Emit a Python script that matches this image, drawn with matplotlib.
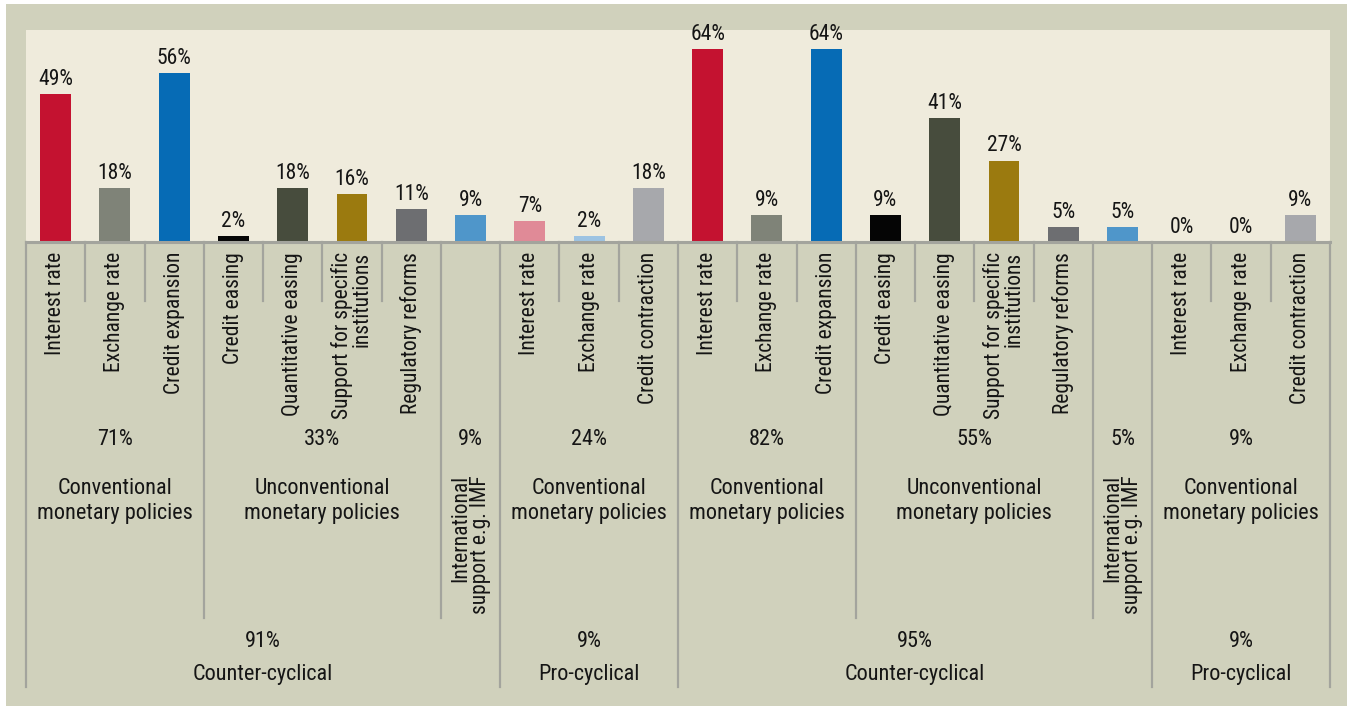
import matplotlib
matplotlib.use("Agg")
from matplotlib import pyplot as plt
from matplotlib import font_manager
from matplotlib.patches import Rectangle

# pick a condensed face, the original uses a narrow grotesque
names = {f.name for f in font_manager.fontManager.ttflist}
face = "Liberation Sans"
for cand in ["Roboto Condensed", "Archivo Narrow", "PT Sans Narrow", "Liberation Sans Narrow"]:
    if cand in names:
        face = cand
        break
plt.rcParams["font.family"] = [face, "DejaVu Sans"]

categories = ["Interest rate", "Exchange rate", "Credit expansion",
              "Credit easing", "Quantitative easing", "Support for specific\ninstitutions",
              "Regulatory reforms", "",
              "Interest rate", "Exchange rate", "Credit contraction",
              "Interest rate", "Exchange rate", "Credit expansion",
              "Credit easing", "Quantitative easing", "Support for specific\ninstitutions",
              "Regulatory reforms", "",
              "Interest rate", "Exchange rate", "Credit contraction"]
values = [49, 18, 56, 2, 18, 16, 11, 9, 7, 2, 18,
          64, 9, 64, 9, 41, 27, 5, 5, 0, 0, 9]
colors = ["#c41230", "#7f8378", "#066bb5", "#050505", "#474c3d", "#9b7a0f",
          "#6d6e71", "#4f96ca", "#e08a97", "#9dc3e2", "#a7a8ac"] * 2

policy_groups = ["Conventional\nmonetary policies", "Unconventional\nmonetary policies",
                 "International\nsupport e.g. IMF", "Conventional\nmonetary policies"] * 2
policy_pcts = ["71%", "33%", "9%", "24%", "82%", "55%", "5%", "9%"]
policy_sizes = [3, 4, 1, 3, 3, 4, 1, 3]

cycle_groups = ["Counter-cyclical", "Pro-cyclical", "Counter-cyclical", "Pro-cyclical"]
cycle_pcts = ["91%", "9%", "95%", "9%"]
cycle_sizes = [8, 3, 8, 3]

W, H = 1347, 706
bg_outer = "#d0d1bc"
bg_plot = "#efebdc"
sep_col = "#a3a49d"
txt = "#151515"
fs = 15.5

fig = plt.figure(figsize=(W / 100, H / 100), dpi=100, facecolor="white")
fig.patches.append(Rectangle((6 / W, 0), 1 - 6 / W, 1 - 4 / H, transform=fig.transFigure,
                             facecolor=bg_outer, edgecolor="none", zorder=-10))

n = len(values)
left, right, top, base = 26, 1330, 30, 242
ax = fig.add_axes([left / W, 1 - base / H, (right - left) / W, (base - top) / H])
ax.set_facecolor(bg_plot)
xs = list(range(n))
bars = ax.bar(xs, values, width=0.52, color=colors)
for b, v in zip(bars, values):
    ax.annotate(f"{v}%", (b.get_x() + b.get_width() / 2, v), xytext=(0, 3),
                textcoords="offset points", ha="center", va="bottom", fontsize=15.5, color=txt)
ax.set_xlim(-0.5, n - 0.5)
ax.set_ylim(0, 70.3)
ax.set_xticks([])
ax.set_yticks([])
for s in ax.spines.values():
    s.set_visible(False)
ax.axhline(0, color=sep_col, lw=2.2, clip_on=False)

# table below the bars, y in pixel rows
tb = fig.add_axes([left / W, 0, (right - left) / W, 1 - base / H])
tb.set_xlim(-0.5, n - 0.5)
tb.set_ylim(H, base)
tb.axis("off")
tb.patch.set_alpha(0)

cyc_edges = [0]
for s in cycle_sizes:
    cyc_edges.append(cyc_edges[-1] + s)
pol_edges = [0]
for s in policy_sizes:
    pol_edges.append(pol_edges[-1] + s)

for i in range(n + 1):
    if i in cyc_edges:
        y1 = 687
    elif i in pol_edges:
        y1 = 618
    else:
        y1 = 301
    tb.plot([i - 0.5, i - 0.5], [base, y1], color=sep_col, lw=1.6, clip_on=False)

for x, lab in zip(xs, categories):
    if lab:
        tb.text(x, 252, lab, rotation=90, ha="center", va="top", multialignment="right",
                fontsize=fs, color=txt, linespacing=0.95)

for k, (lab, pct) in enumerate(zip(policy_groups, policy_pcts)):
    c = (pol_edges[k] + pol_edges[k + 1] - 1) / 2
    tb.text(c, 440, pct, ha="center", va="center", fontsize=16, color=txt)
    if policy_sizes[k] == 1:
        tb.text(c, 614, lab, rotation=90, ha="center", va="bottom", multialignment="right",
                fontsize=fs, color=txt, linespacing=0.95)
    else:
        tb.text(c, 501, lab, ha="center", va="center", fontsize=16, color=txt,
                linespacing=1.3)

for k, (lab, pct) in enumerate(zip(cycle_groups, cycle_pcts)):
    c = (cyc_edges[k] + cyc_edges[k + 1] - 1) / 2
    tb.text(c, 642, pct, ha="center", va="center", fontsize=16, color=txt)
    tb.text(c, 675, lab, ha="center", va="center", fontsize=16, color=txt)

fig.savefig("out.png", dpi=100, facecolor=fig.get_facecolor())
